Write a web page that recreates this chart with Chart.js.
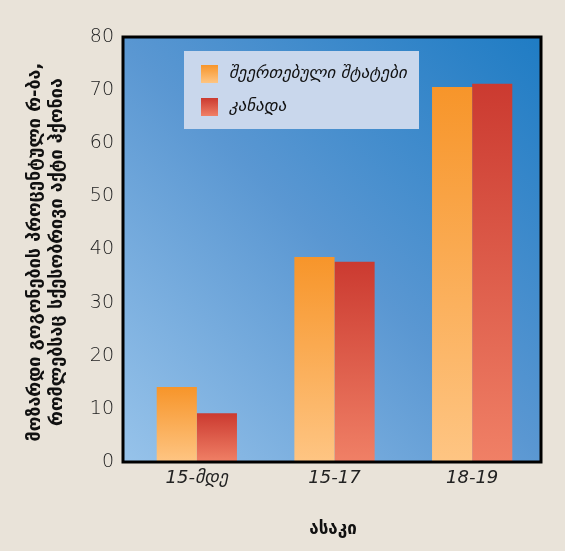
<!DOCTYPE html>
<html>
<head>
<meta charset="utf-8">
<script src="https://cdn.jsdelivr.net/npm/chart.js@4.4.0/dist/chart.umd.min.js"></script>
<style>
html,body{margin:0;padding:0;background:#e9e3d9;}
#wrap{width:565px;height:551px;}
</style>
</head>
<body>
<div id="wrap"><canvas id="c" width="565" height="551"></canvas></div>
<script>
const categories = ['15-მდე', '15-17', '18-19'];
const seriesNames = ['შეერთებული შტატები', 'კანადა'];
const usValues = [14.1, 38.6, 70.6];
const canadaValues = [9.2, 37.7, 71.2];
const yTicks = [0, 10, 20, 30, 40, 50, 60, 70, 80];
const yTitle = ['მოზარდი გოგონების პროცენტული რ-ბა,', 'რომლებსაც სქესობრივი აქტი ჰქონია'];
const xTitle = 'ასაკი';

const gradStops = [
  ['#f7952a', '#fec583'],
  ['#cb3a30', '#f08066']
];

function barGrad(ctx, idx) {
  const chart = ctx.chart;
  const ca = chart.chartArea;
  if (!ca || ctx.dataIndex === undefined) return gradStops[idx][0];
  const ys = chart.scales.y;
  const v = ctx.raw;
  const top = ys.getPixelForValue(v);
  const bot = ys.getPixelForValue(0);
  const g = chart.ctx.createLinearGradient(0, top, 0, bot);
  g.addColorStop(0, gradStops[idx][0]);
  g.addColorStop(1, gradStops[idx][1]);
  return g;
}

const FRAME_SHIFT = 5;

const bgPlugin = {
  id: 'bg',
  beforeDraw(chart) {
    const c = chart.ctx, a = chart.chartArea;
    const L = a.left - FRAME_SHIFT;
    c.save();
    c.fillStyle = '#e9e3d9';
    c.fillRect(0, 0, chart.width, chart.height);
    const g = c.createLinearGradient(L, a.bottom, a.right, a.top);
    g.addColorStop(0, '#97c3ea');
    g.addColorStop(0.5, '#5a97d2');
    g.addColorStop(1, '#1f7cc4');
    c.fillStyle = g;
    c.fillRect(L, a.top, a.right - L, a.bottom - a.top);
    c.restore();
  },
  afterDraw(chart) {
    const c = chart.ctx, a = chart.chartArea;
    const L = a.left - FRAME_SHIFT;
    c.save();
    c.strokeStyle = '#000';
    c.lineWidth = 3;
    c.strokeRect(L, a.top, a.right - L, a.bottom - a.top);
    // legend
    c.fillStyle = '#c9d7ec';
    c.fillRect(184, 51, 235, 78);
    chart.data.datasets.forEach((ds, i) => {
      const y0 = 65 + i * 33;
      const g = c.createLinearGradient(0, y0, 0, y0 + 18);
      g.addColorStop(0, gradStops[i][0]);
      g.addColorStop(1, gradStops[i][1]);
      c.fillStyle = g;
      c.fillRect(201, y0, 17, 18);
      c.fillStyle = '#111';
      c.font = 'italic 17px "DejaVu Sans"';
      c.textBaseline = 'middle';
      c.textAlign = 'left';
      c.fillText(ds.label, 229, y0 + 9);
    });
    // titles
    c.fillStyle = '#111';
    c.font = 'bold 18px "DejaVu Sans"';
    c.textAlign = 'center';
    c.textBaseline = 'middle';
    c.save();
    c.translate(35, 252);
    c.rotate(-Math.PI / 2);
    c.fillText(yTitle[0], 0, 0);
    c.fillText(yTitle[1], 0, 22);
    c.restore();
    c.font = 'bold 17px "DejaVu Sans"';
    c.fillText(xTitle, 333, 530);
    c.restore();
  }
};

new Chart(document.getElementById('c'), {
  type: 'bar',
  data: {
    labels: categories,
    datasets: [
      { label: seriesNames[0], data: usValues, backgroundColor: (ctx) => barGrad(ctx, 0) },
      { label: seriesNames[1], data: canadaValues, backgroundColor: (ctx) => barGrad(ctx, 1) }
    ]
  },
  options: {
    responsive: false,
    animation: false,
    devicePixelRatio: 1,
    layout: { padding: { left: 0, right: 24, top: 37, bottom: 0 } },
    plugins: { legend: { display: false }, tooltip: { enabled: false } },
    datasets: { bar: { barPercentage: 1, categoryPercentage: 0.583 } },
    scales: {
      x: {
        grid: { display: false, drawTicks: false },
        border: { display: false },
        ticks: { padding: 6, color: '#222', font: { family: 'DejaVu Sans', size: 18, style: 'italic' } },
        afterFit(s) { s.height = 89; }
      },
      y: {
        min: 0, max: 80,
        afterBuildTicks(s) { s.ticks = yTicks.map(v => ({ value: v })); },
        grid: { display: false, drawTicks: false },
        border: { display: false },
        ticks: { padding: 14, color: '#222', font: { family: 'DejaVu Sans', size: 19, weight: '200' } },
        afterFit(s) { s.width = 128; }
      }
    }
  },
  plugins: [bgPlugin]
});
</script>
</body>
</html>
